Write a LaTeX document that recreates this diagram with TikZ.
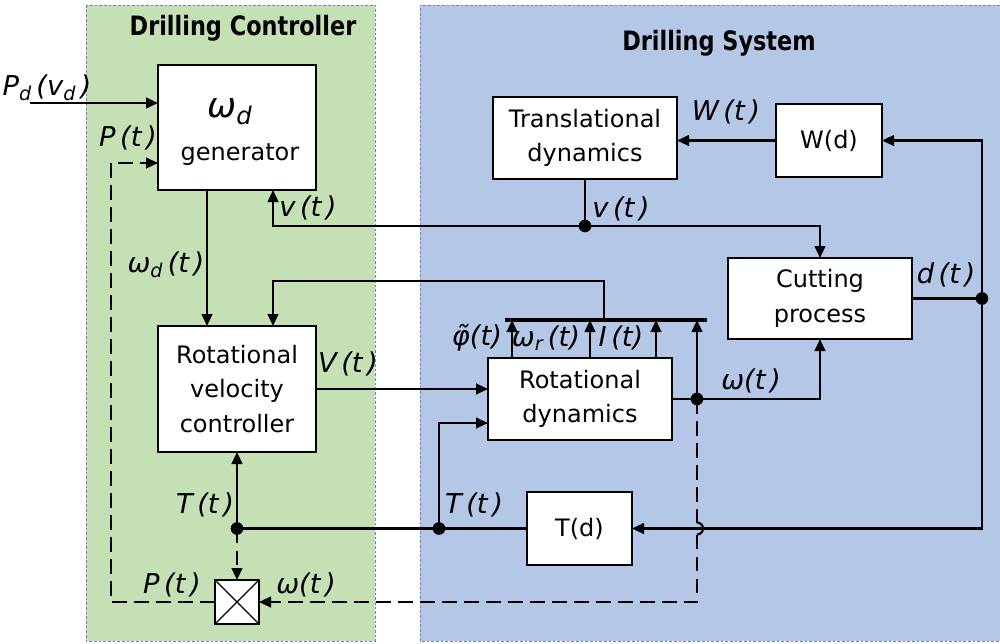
\documentclass[tikz,border=0pt]{standalone}
\usepackage{fontspec}
\setmainfont{DejaVu Sans}
\newfontfamily\titlefont[FakeStretch=0.84]{DejaVu Sans}
\usetikzlibrary{arrows.meta}
\definecolor{pgreen}{HTML}{C5E0B4}
\definecolor{pblue}{HTML}{B4C7E7}
\definecolor{pborder}{HTML}{6A86B8}
\newcommand\lb[1]{{\fontsize{20.5}{22}\selectfont\itshape #1}}
\begin{document}
\begin{tikzpicture}[x=0.75pt,y=-0.75pt,
  panel/.style={draw=pborder,line width=0.6pt,dash pattern=on 2pt off 1.5pt},
  blk/.style={draw,fill=white,line width=1.3pt,inner sep=0pt,outer sep=0pt,align=center,
    font=\fontsize{18}{26}\selectfont},
  ln/.style={line width=1.6pt},
  arr/.style={line width=1.6pt,-{Triangle[length=9pt,width=8pt]}},
  dsh/.style={dash pattern=on 11pt off 5.5pt},
  dot/.style={circle,fill,inner sep=0pt,minimum size=9.5pt},
  lab/.style={inner sep=0pt},
  ttl/.style={font=\titlefont\bfseries\fontsize{20}{22}\selectfont}]
\useasboundingbox (0,0) rectangle (1000,643);
% panels
\path[fill=pgreen] (86,5) rectangle (375,641);
\draw[panel] (86,5) rectangle (375,641);
\path[fill=pblue] (420,5) rectangle (1000,641);
\draw[panel] (1000,5) -- (420,5) -- (420,641) -- (1000,641);
\node[ttl] (t1) at (243,28) {Drilling Controller};
\node[ttl] (t2) at (719,43) {Drilling System};
% blocks
\node[blk,minimum width=118.5pt,minimum height=93.75pt] (gen) at (237,127.5) {};
\node[lab,font=\fontsize{26}{28}\selectfont\itshape] (genw) at (230,112) {ω\textsubscript{d}};
\node[lab,font=\fontsize{18}{26}\selectfont] (gent) at (240,155) {generator};
\node[blk,minimum width=118.5pt,minimum height=94.5pt] (rvc) at (237,389) {Rotational\\velocity\\controller};
\node[blk,minimum width=138pt,minimum height=61.5pt] (rd) at (580,399) {Rotational\\dynamics};
\node[blk,minimum width=138pt,minimum height=61.5pt] (td) at (585,138) {Translational\\dynamics};
\node[blk,minimum width=79.5pt,minimum height=54.75pt] (wd) at (829,140.5) {W(d)};
\node[blk,minimum width=138pt,minimum height=60.75pt] (cp) at (820,298.5) {Cutting\\process};
\node[blk,minimum width=78.75pt,minimum height=54.75pt] (Td) at (579.5,528.5) {T(d)};
\node[draw,fill=white,line width=1.3pt,inner sep=0pt,outer sep=0pt,minimum size=33pt,
  path picture={\draw[line width=0.9pt] (path picture bounding box.north west) -- (path picture bounding box.south east)
  (path picture bounding box.south west) -- (path picture bounding box.north east);}] (mult) at (237,602) {};
% junctions
\node[dot] (jv) at (585,226) {};
\node[dot] (jd) at (982,298.5) {};
\node[dot] (jt1) at (237,528.5) {};
\node[dot] (jt2) at (439,528.5) {};
\node[dot] (jw) at (697,399) {};
\coordinate (in) at (30,103);
\coordinate (barL) at (505,320);
\coordinate (barR) at (707,320);
\coordinate (barT) at (604,320);
\coordinate (fb) at (604,281);
\coordinate (hop) at (697,522.5);
\coordinate (hopb) at (697,534.5);
\coordinate (pc) at (111,163);
% connectors
\draw[arr] (in) -- (in -| gen.west);
\draw[arr] ([xshift=-22.5pt]gen.south) -- ([xshift=-22.5pt]rvc.north);
\draw[ln] (td.south) -- (jv.center);
\draw[arr] (jv.center) -| ([xshift=27pt]gen.south);
\draw[arr] (jv.center) -| (cp.north);
\draw[ln] (cp.east) -- (jd.center);
\draw[arr] (jd.center) |- (wd.east);
\draw[arr] (jd.center) |- (Td.east);
\draw[arr] (wd.west) -- (wd.west -| td.east);
\draw[ln] (Td.west) -- (jt1.center);
\draw[arr] (jt1.center) -- (rvc.south);
\draw[arr,dsh] (jt1.center) -- (mult.north);
\draw[arr] (jt2.center) |- ([yshift=-18pt]rd.west);
\draw[arr] (rvc.east) -- (rvc.east -| rd.west);
\draw[ln] (rd.east) -- (jw.center);
\draw[arr] (jw.center) -| (cp.south);
\draw[line width=2.8pt] (barL) -- (barR);
\draw[arr] ([xshift=-51pt]rd.north) -- ([xshift=-51pt]rd.north |- barL);
\draw[arr] ([xshift=7.5pt]rd.north) -- ([xshift=7.5pt]rd.north |- barL);
\draw[arr] ([xshift=57pt]rd.north) -- ([xshift=57pt]rd.north |- barL);
\draw[arr] (jw.center) -- (jw |- barL);
\draw[arr] (barT) -- (fb) -| ([xshift=27pt]rvc.north);
\draw[ln,dsh] (jw.center) -- (hop);
\draw[line width=1.6pt] (hop) arc[start angle=90,end angle=-90,radius=4.5pt];
\draw[arr,dsh] (hopb) -- (jw |- mult.east) -- (mult.east);
\draw[arr,dsh] (mult.west) -| (pc) -- (pc -| gen.west);
% labels
\node[lab] (lpd) at (47,88) {\lb{P\textsubscript{d}\,(v\textsubscript{d}\,)}};
\node[lab] (lp1) at (128,138) {\lb{P\,(t\,)}};
\node[lab] (lv1) at (308,208) {\lb{v\,(t\,)}};
\node[lab] (lwd) at (166,265) {\lb{ω\textsubscript{d}\,(t\,)}};
\node[lab] (lv2) at (621,209) {\lb{v\,(t\,)}};
\node[lab] (lW) at (726,112) {\lb{W\,(t\,)}};
\node[lab] (ld) at (946,275) {\lb{d\,(t\,)}};
\node[lab] (lV) at (348,364) {\lb{V\,(t\,)}};
\node[lab] (lphi) at (477,338) {\lb{φ̃(t)}};
\node[lab] (lwr) at (546,338) {\lb{ω\textsubscript{r}\,(t)}};
\node[lab] (lI) at (621,338) {\lb{I\,(t)}};
\node[lab] (lw) at (751,381) {\lb{ω(t\,)}};
\node[lab] (lT1) at (205,505) {\lb{T\,(t\,)}};
\node[lab] (lT2) at (474,505) {\lb{T\,(t\,)}};
\node[lab] (lp2) at (172,585) {\lb{P\,(t\,)}};
\node[lab] (lw2) at (306,585) {\lb{ω(t\,)}};
\end{tikzpicture}
\end{document}
